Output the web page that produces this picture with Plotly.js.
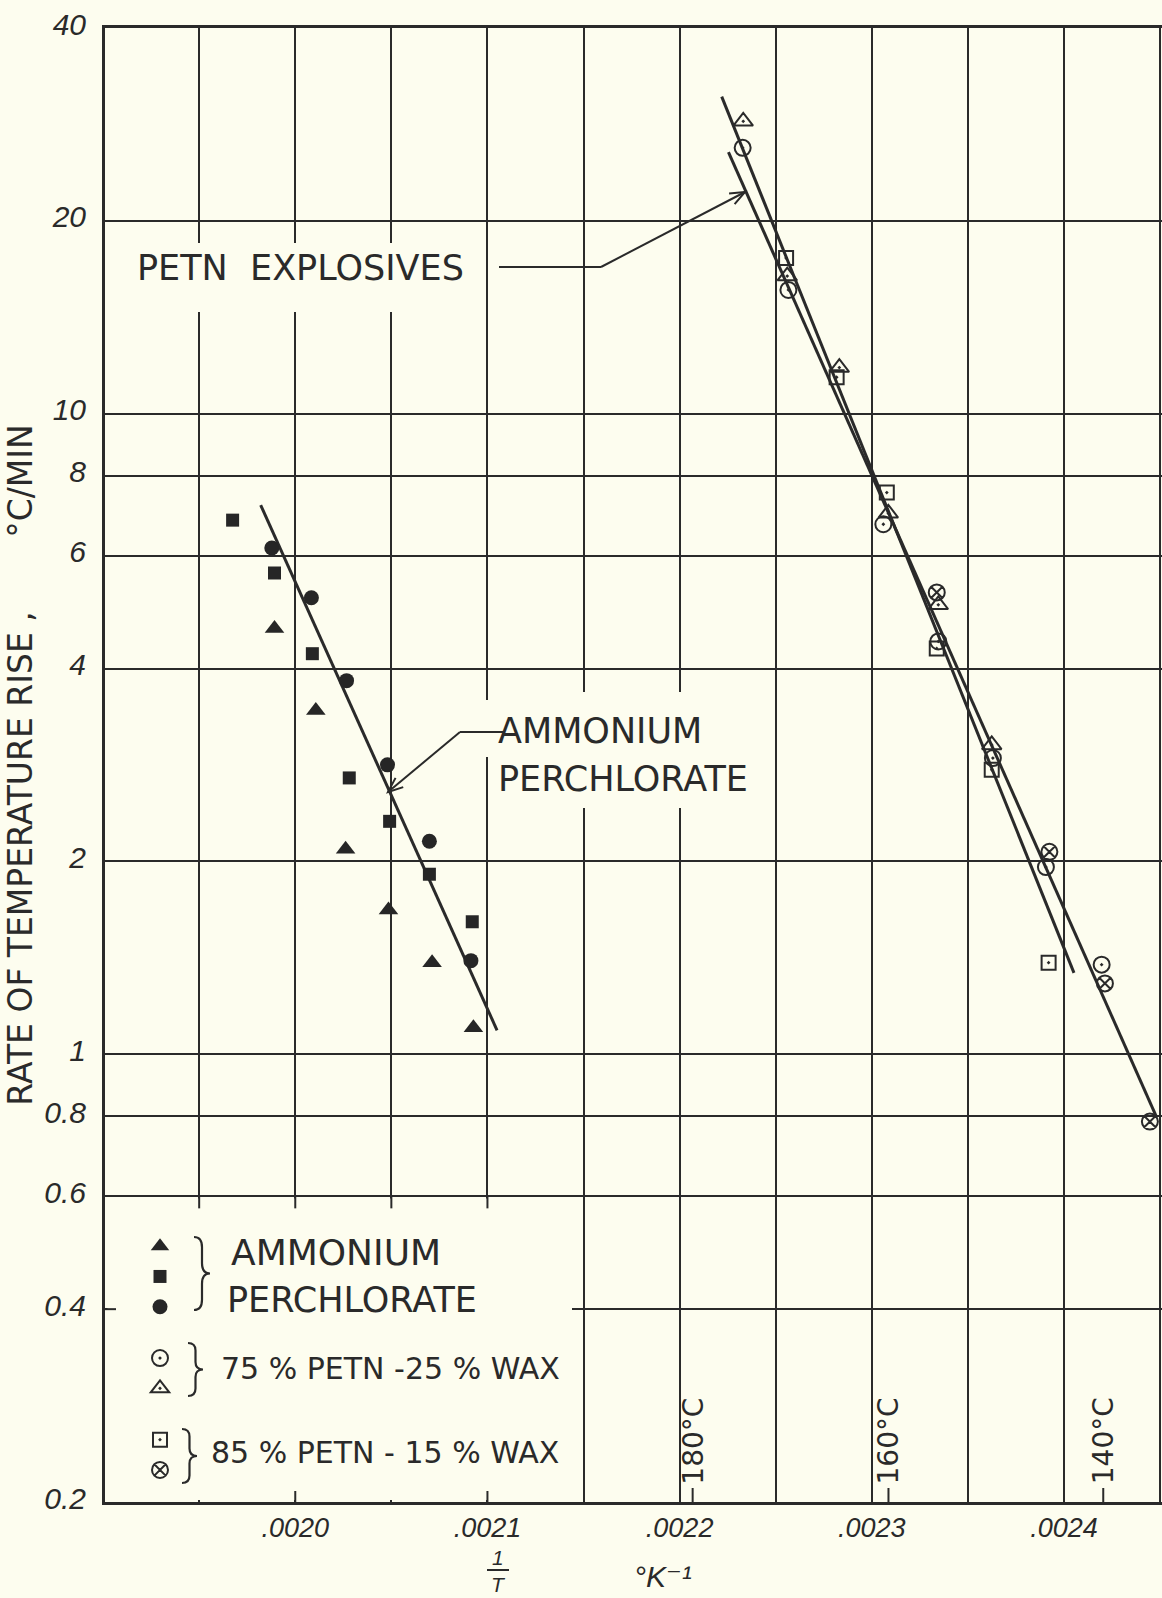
<!DOCTYPE html>
<html>
<head>
<meta charset="utf-8">
<script src="https://cdn.plot.ly/plotly-3.0.1.min.js"></script>
<style>
  html, body { margin: 0; padding: 0; background: #fdfdef; }
  #chart { width: 1162px; height: 1598px; }
</style>
</head>
<body>
<div id="chart"></div>
<script>
// ---------------- data ----------------
// Ammonium perchlorate (filled symbols)
const apTriX = [0.0019892, 0.0020107, 0.0020262, 0.0020485, 0.0020712, 0.0020927];
const apTriY = [4.62, 3.44, 2.09, 1.68, 1.39, 1.10];
const apSqX  = [0.0019674, 0.0019892, 0.0020089, 0.0020281, 0.0020491, 0.0020698, 0.0020921];
const apSqY  = [6.82, 5.64, 4.22, 2.70, 2.31, 1.91, 1.61];
const apCirX = [0.0019878, 0.0020084, 0.0020267, 0.0020480, 0.0020698, 0.0020914];
const apCirY = [6.17, 5.16, 3.83, 2.83, 2.15, 1.40];
const apFitX = [0.001982, 0.002105];
const apFitY = [7.2, 1.09];

// 75 % PETN - 25 % wax (open circle, open triangle)
const p75CirX = [0.0022328, 0.0022566, 0.0023060, 0.0023346, 0.0023630, 0.0023906, 0.0024196];
const p75CirY = [26.0, 15.6, 6.72, 4.41, 2.90, 1.96, 1.38];
const p75TriX = [0.0022331, 0.0022560, 0.0022831, 0.0023086, 0.0023346, 0.0023624];
const p75TriY = [28.6, 16.4, 11.8, 6.99, 5.03, 3.04];
// 85 % PETN - 15 % wax (open square, circled x)
const p85SqX = [0.0022554, 0.0022817, 0.0023078, 0.0023338, 0.0023624, 0.0023920];
const p85SqY = [17.5, 11.4, 7.53, 4.30, 2.78, 1.39];
const p85XcX = [0.0023338, 0.0023924, 0.0024213, 0.0024447];
const p85XcY = [5.26, 2.07, 1.29, 0.785];
// PETN fitted lines
const petnFit1X = [0.0022219, 0.0024052];
const petnFit1Y = [31.25, 1.34];
const petnFit2X = [0.0022254, 0.002448];
const petnFit2Y = [25.6, 0.80];

// axes
const xTickVals = [0.0020, 0.0021, 0.0022, 0.0023, 0.0024];
const xTickText = ['.0020', '.0021', '.0022', '.0023', '.0024'];
const xHalfGrid = [0.00195, 0.00205, 0.00215, 0.00225, 0.00235, 0.00245];
const yTickVals = [0.2, 0.4, 0.6, 0.8, 1, 2, 4, 6, 8, 10, 20, 40];
const yTickText = ['0.2', '0.4', '0.6', '0.8', '1', '2', '4', '6', '8', '10', '20', '40'];
const tempC = [180, 160, 140];
const tempLabels = ['180°C', '160°C', '140°C'];

// legend group labels
const keyLabels = ['AMMONIUM', 'PERCHLORATE', '75 % PETN -25 % WAX', '85 % PETN - 15 % WAX'];

// ---------------- geometry helpers ----------------
const W = 1162, H = 1598, ML = 105, MR = 0, MT = 28, MB = 96;
const PW = W - ML - MR, PH = H - MT - MB;
const px = x => (x - ML) / PW;          // pixel x -> paper x
const py = y => (H - MB - y) / PH;      // pixel y -> paper y
const P = (x, y) => px(x).toFixed(5) + ',' + py(y).toFixed(5);

const INK = '#2a2a2a';
const BG = '#fdfdef';
const TXT = 'DejaVu Sans, sans-serif';
const TICKF = 'Liberation Sans, DejaVu Sans, sans-serif';

function bracePath(x, yTop, yBot, w) {
  const ym = (yTop + yBot) / 2, c = (yBot - yTop) * 0.14, xm = x + w * 0.5;
  return 'M' + P(x, yTop) +
    ' Q' + P(xm, yTop) + ' ' + P(xm, yTop + c) +
    ' L' + P(xm, ym - c) +
    ' Q' + P(xm, ym) + ' ' + P(x + w, ym) +
    ' Q' + P(xm, ym) + ' ' + P(xm, ym + c) +
    ' L' + P(xm, yBot - c) +
    ' Q' + P(xm, yBot) + ' ' + P(x, yBot);
}
// leader arrow: straight line from tail to tip with an open "V" head
function arrowShapes(tx, ty, hx, hy) {
  const dx = hx - tx, dy = hy - ty, len = Math.hypot(dx, dy);
  const ux = dx / len, uy = dy / len, L = 16, a = 22 * Math.PI / 180;
  const b1x = hx - L * (ux * Math.cos(a) - uy * Math.sin(a)), b1y = hy - L * (ux * Math.sin(a) + uy * Math.cos(a));
  const b2x = hx - L * (ux * Math.cos(-a) - uy * Math.sin(-a)), b2y = hy - L * (ux * Math.sin(-a) + uy * Math.cos(-a));
  return [
    { type: 'path', xref: 'paper', yref: 'paper', layer: 'above', path: 'M' + P(tx, ty) + ' L' + P(hx, hy), line: { color: INK, width: 2 } },
    { type: 'path', xref: 'paper', yref: 'paper', layer: 'above', path: 'M' + P(b1x, b1y) + ' L' + P(hx, hy) + ' L' + P(b2x, b2y), line: { color: INK, width: 2 } }
  ];
}

// ---------------- traces ----------------
const lineStyle = { color: INK, width: 3 };
const traces = [
  { x: apFitX, y: apFitY, mode: 'lines', line: lineStyle, showlegend: false, hoverinfo: 'skip' },
  { x: petnFit1X, y: petnFit1Y, mode: 'lines', line: lineStyle, showlegend: false, hoverinfo: 'skip' },
  { x: petnFit2X, y: petnFit2Y, mode: 'lines', line: lineStyle, showlegend: false, hoverinfo: 'skip' },

  { x: apTriX, y: apTriY, mode: 'markers', name: ' ', legendgroup: 'ap',
    marker: { symbol: 'triangle-up', size: 17, color: '#262626', line: { width: 0 } } },
  { x: apSqX, y: apSqY, mode: 'markers', name: ' ', legendgroup: 'ap',
    marker: { symbol: 'square', size: 13, color: '#262626', line: { width: 0 } } },
  { x: apCirX, y: apCirY, mode: 'markers', name: ' ', legendgroup: 'ap',
    marker: { symbol: 'circle', size: 15, color: '#262626', line: { width: 0 } } },

  { x: p75CirX, y: p75CirY, mode: 'markers', name: ' ', legendgroup: 'p75',
    marker: { symbol: 'circle-open-dot', size: 16, color: INK, line: { width: 2, color: INK } } },
  { x: p75TriX, y: p75TriY, mode: 'markers', name: ' ', legendgroup: 'p75',
    marker: { symbol: 'triangle-up-open-dot', size: 17, color: INK, line: { width: 2, color: INK } } },

  { x: p85SqX, y: p85SqY, mode: 'markers', name: ' ', legendgroup: 'p85',
    marker: { symbol: 'square-open-dot', size: 14, color: INK, line: { width: 2, color: INK } } },
  { x: p85XcX, y: p85XcY, mode: 'markers', name: ' ', legendgroup: 'p85',
    marker: { symbol: 'circle-x-open', size: 16, color: INK, line: { width: 2, color: INK } } }
];

// ---------------- shapes ----------------
const mask = (x0, y0, x1, y1) => ({
  type: 'rect', xref: 'paper', yref: 'paper', layer: 'above',
  x0: px(x0), x1: px(x1), y0: py(y1), y1: py(y0),
  fillcolor: BG, line: { width: 0 }
});
const seg = (x0, y0, x1, y1, w) => ({
  type: 'line', xref: 'paper', yref: 'paper', layer: 'above',
  x0: px(x0), y0: py(y0), x1: px(x1), y1: py(y1),
  line: { color: INK, width: w || 2 }
});
const yPaperOf = v => (Math.log10(v) - Math.log10(0.2)) / (Math.log10(40) - Math.log10(0.2));

const shapes = [
  mask(125, 243, 478, 312),     // PETN EXPLOSIVES label
  mask(493, 692, 762, 808),     // AMMONIUM PERCHLORATE label
  mask(479, 700, 493, 757),
  mask(107.5, 1198.5, 572, 1500), // legend box
  seg(499, 267, 601, 267),      // PETN leader
  seg(460, 732, 503, 732)       // AP leader
];
arrowShapes(601, 267, 745, 192).forEach(s => shapes.push(s));
arrowShapes(460, 732, 388, 792).forEach(s => shapes.push(s));
// stubs hanging from the 0.6 line into the legend box
[0.00195, 0.0020, 0.00205, 0.0021].forEach(v => shapes.push({
  type: 'line', xref: 'x', yref: 'paper', layer: 'above', x0: v, x1: v,
  y0: yPaperOf(0.6), y1: yPaperOf(0.6) - 12 / PH, line: { color: INK, width: 2 }
}));
// stubs on the bottom axis inside the legend box
[0.0020, 0.0021].forEach(v => shapes.push({
  type: 'line', xref: 'x', yref: 'paper', layer: 'above', x0: v, x1: v,
  y0: 0, y1: 11 / PH, line: { color: INK, width: 2 }
}));
// stub at 0.4 on the left axis
shapes.push({ type: 'line', xref: 'paper', yref: 'paper', layer: 'above',
  x0: 0, x1: 11 / PW, y0: yPaperOf(0.4), y1: yPaperOf(0.4), line: { color: INK, width: 2 } });
// temperature stubs
tempC.forEach(t => shapes.push({
  type: 'line', xref: 'x', yref: 'paper', layer: 'above',
  x0: 1 / (t + 273.15), x1: 1 / (t + 273.15), y0: 0, y1: 14 / PH, line: { color: INK, width: 2 }
}));
// legend braces
shapes.push({ type: 'path', xref: 'paper', yref: 'paper', layer: 'above', path: bracePath(194, 1237, 1310, 16), line: { color: INK, width: 2.2 } });
shapes.push({ type: 'path', xref: 'paper', yref: 'paper', layer: 'above', path: bracePath(188, 1343, 1396, 15), line: { color: INK, width: 2.2 } });
shapes.push({ type: 'path', xref: 'paper', yref: 'paper', layer: 'above', path: bracePath(182, 1429, 1483, 15), line: { color: INK, width: 2.2 } });
// bar of the 1/T fraction
shapes.push(seg(487, 1570, 509, 1570, 2));

// ---------------- annotations ----------------
const txt = (text, x, y, size, opts) => Object.assign({
  xref: 'paper', yref: 'paper', x: px(x), y: py(y), text: text,
  xanchor: 'left', yanchor: 'middle', showarrow: false,
  font: { family: TXT, size: size, color: INK }
}, opts || {});
const ital = size => ({ family: TICKF, size: size, color: INK, style: 'italic' });

const annotations = [
  txt('PETN  EXPLOSIVES', 135, 268, 35),
  txt('AMMONIUM', 496, 731, 35),
  txt('PERCHLORATE', 496, 779, 35),
  txt(keyLabels[0], 229, 1252, 36),
  txt(keyLabels[1], 225, 1300, 35),
  txt(keyLabels[2], 219, 1368, 30),
  txt(keyLabels[3], 209, 1452, 30),
  txt('1', 498, 1557, 21, { xanchor: 'center', font: ital(21) }),
  txt('T', 498, 1584, 21, { xanchor: 'center', font: ital(21) }),
  txt('°K⁻¹', 632, 1576, 30, { font: ital(30) })
];
tempC.forEach((t, i) => annotations.push({
  xref: 'x', yref: 'paper', x: 1 / (t + 273.15), y: py(1441), text: tempLabels[i],
  xanchor: 'center', yanchor: 'middle',
  textangle: -90, showarrow: false, font: { family: TXT, size: 28, color: INK }
}));

// ---------------- layout ----------------
const layout = {
  width: W, height: H,
  margin: { l: ML, r: MR, t: MT, b: MB, pad: 0 },
  paper_bgcolor: BG, plot_bgcolor: BG,
  showlegend: true,
  legend: {
    x: px(140), y: py(1226), xanchor: 'left', yanchor: 'top',
    bgcolor: 'rgba(0,0,0,0)', borderwidth: 0,
    font: { family: TXT, size: 21, color: INK },
    traceorder: 'grouped', tracegroupgap: 21, itemwidth: 30, itemsizing: 'trace'
  },
  xaxis: {
    range: [0.001901, 0.002451],
    tickmode: 'array', tickvals: xTickVals, ticktext: xTickText,
    showgrid: true, gridcolor: INK, gridwidth: 2, zeroline: false,
    minor: { tickmode: 'array', tickvals: xHalfGrid, showgrid: true, gridcolor: INK, gridwidth: 2, ticks: '' },
    showline: true, linecolor: INK, linewidth: 3, mirror: true,
    ticks: '', ticklabelstandoff: 0,
    tickfont: ital(27),
    automargin: false, fixedrange: true
  },
  yaxis: {
    type: 'log', range: [Math.log10(0.2), Math.log10(40)],
    tickmode: 'array', tickvals: yTickVals, ticktext: yTickText,
    showgrid: true, gridcolor: INK, gridwidth: 2, zeroline: false,
    showline: true, linecolor: INK, linewidth: 3,
    ticks: '', ticklabelstandoff: 10, ticklabelshift: -4,
    tickfont: ital(30),
    title: {
      text: 'RATE OF TEMPERATURE RISE ,' + '\u00a0'.repeat(7) + '°C/MIN' + '\u00a0\u00a0\u00a0',
      font: { family: TXT, size: 33, color: INK },
      standoff: 2
    },
    automargin: false, fixedrange: true
  },
  shapes: shapes,
  annotations: annotations
};

Plotly.newPlot('chart', traces, layout, { displayModeBar: false, staticPlot: true });
</script>
</body>
</html>
